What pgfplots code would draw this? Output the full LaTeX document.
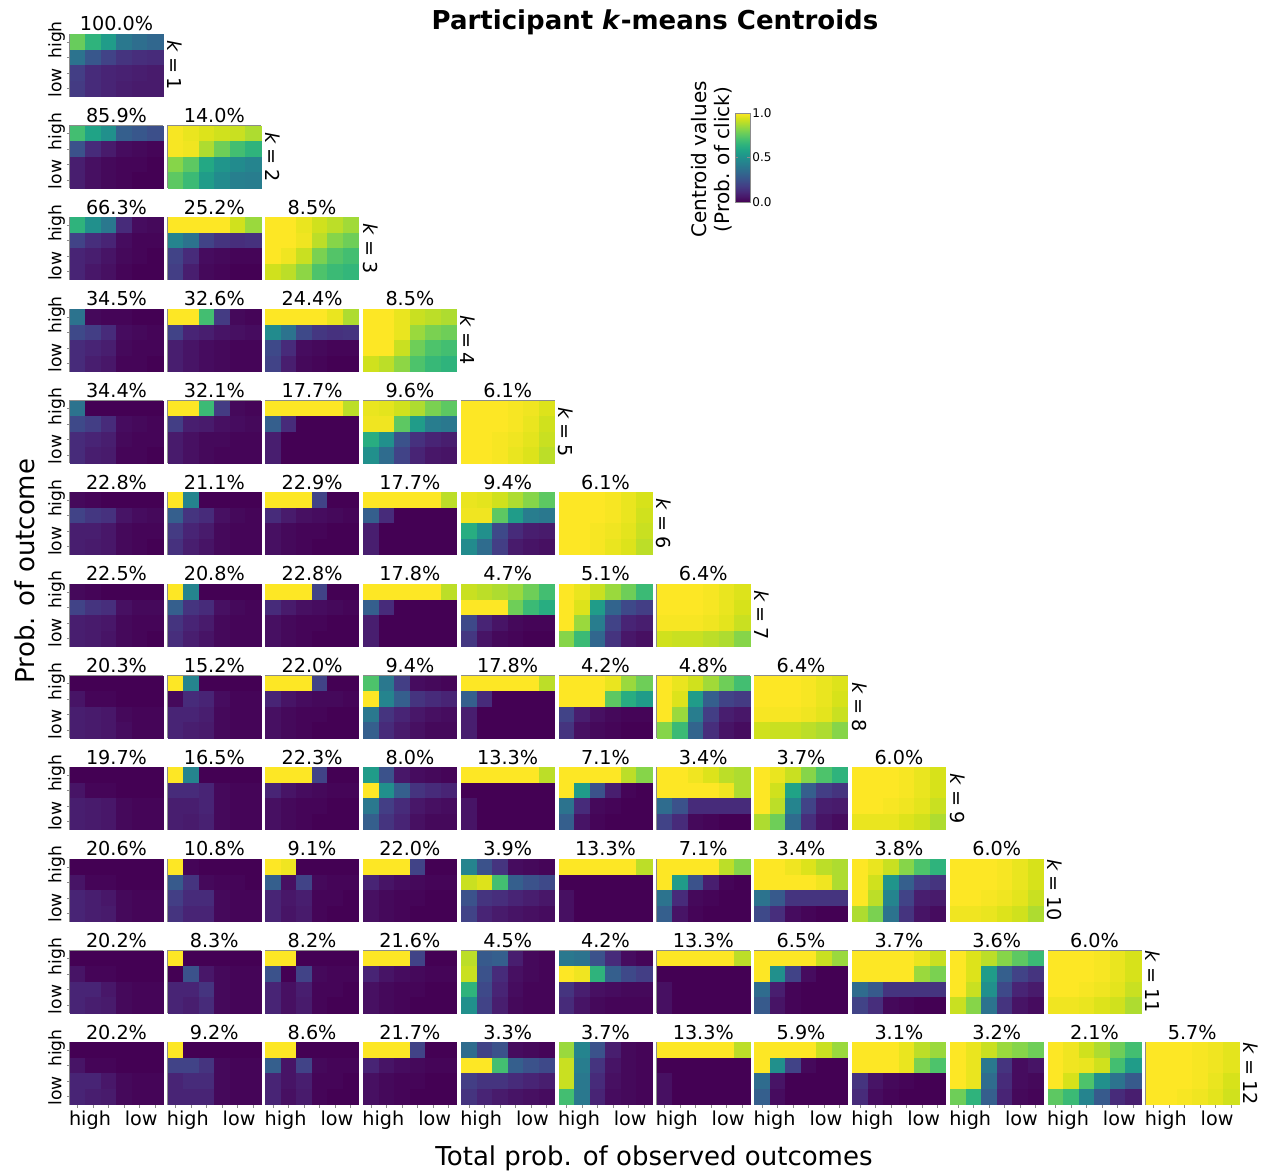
\documentclass[border=0pt]{standalone}
\usepackage{fontspec}
\setmainfont{DejaVu Sans}
\usepackage{pgfplots}
\pgfplotsset{compat=1.18}

\newcommand{\pctfont}{\fontsize{9.6}{11}\selectfont}
\newcommand{\xtickfont}{\fontsize{9.6}{11}\selectfont}
\newcommand{\ytickfont}{\fontsize{8.6}{10}\selectfont}
\newcommand{\labfont}{\fontsize{13}{15}\selectfont}

\pgfplotsset{
  hm/.style={
    anchor=north west, scale only axis, width=46.5pt, height=31pt,
    xmin=-0.5, xmax=5.5, ymin=-0.5, ymax=3.5, y dir=reverse,
    colormap/viridis, point meta min=0, point meta max=100,
    axis on top, axis line style={gray!90, line width=0.5pt},
    xtick=\empty, ytick=\empty,
    tick style={gray!90, line width=0.45pt}, tick align=outside, major tick length=1.6pt,
    every axis title/.style={font=\pctfont, at={(0.5,1)}, anchor=base, yshift=1.7pt, inner sep=0pt},
  },
  lefty/.style={ytick={0,1,2,3}, yticklabels={}, ytick pos=left,
    extra y ticks={-0.14,2.63}, extra y tick labels={high,{low\vphantom{g}}},
    extra y tick style={major tick length=0pt, tick style={draw=none},
      yticklabel style={font=\ytickfont, rotate=90, anchor=south, inner sep=2.3pt}}},
  bottomx/.style={xtick={0,...,5}, xticklabels={}, xtick pos=left,
    extra x ticks={0.79,4.1}, extra x tick labels={high,low},
    extra x tick style={major tick length=0pt, tick style={draw=none},
      xticklabel style={font=\xtickfont, anchor=north, inner sep=2.8pt}}},
}

% one centroid: column, row, share, extra axis keys, 4x6 values (percent, row by row)
\newcommand{\hmap}[5]{%
  \begin{axis}[hm, at={(#1*48.9pt,-#2*45.83pt)}, title={#3}, #4]
    \addplot[scatter, only marks, mark=square*, mark size=3.875pt,
      mark options={line width=0.2pt}, point meta=explicit,
      scatter/use mapped color={draw=mapped color, fill=mapped color}]
      table[header=false, row sep=\\, x expr={mod(\coordindex,6)},
            y expr={floor((\coordindex+0.5)/6)}, meta index=0] {#5};
  \end{axis}}

\begin{document}
\begin{tikzpicture}
\useasboundingbox (-35pt,17.15pt) rectangle (600pt,-569.35pt);

% k = 1
\hmap{0}{0}{100.0\%}{lefty}{77\\65\\55\\40\\36\\33\\38\\27\\20\\15\\13\\12\\18\\12\\10\\9\\8\\7\\17\\12\\10\\8\\7\\7\\}
% k = 2
\hmap{0}{1}{85.9\%}{lefty}{70\\58\\50\\30\\27\\24\\25\\12\\7\\3\\2\\1\\8\\4\\2\\1\\1\\0\\8\\4\\2\\1\\0\\0\\}
\hmap{1}{1}{14.0\%}{}{99\\97\\95\\93\\92\\88\\99\\98\\88\\78\\70\\65\\82\\75\\60\\52\\48\\45\\75\\68\\55\\48\\43\\42\\}
% k = 3
\hmap{0}{2}{66.3\%}{lefty}{65\\50\\40\\12\\3\\2\\20\\13\\10\\3\\1\\1\\10\\8\\5\\2\\1\\0\\10\\6\\4\\1\\0\\0\\}
\hmap{1}{2}{25.2\%}{}{100\\100\\100\\100\\93\\85\\45\\38\\20\\15\\13\\14\\20\\12\\3\\2\\1\\1\\18\\8\\2\\1\\0\\0\\}
\hmap{2}{2}{8.5\%}{}{100\\100\\97\\93\\90\\86\\100\\100\\98\\90\\82\\78\\100\\98\\92\\80\\73\\70\\93\\90\\83\\72\\68\\66\\}
% k = 4
\hmap{0}{3}{34.5\%}{lefty}{38\\2\\1\\1\\0\\0\\22\\18\\12\\3\\2\\1\\12\\10\\8\\2\\1\\1\\12\\8\\6\\1\\1\\0\\}
\hmap{1}{3}{32.6\%}{}{100\\100\\70\\17\\2\\1\\20\\10\\8\\5\\4\\3\\8\\5\\3\\2\\1\\1\\8\\5\\3\\2\\1\\1\\}
\hmap{2}{3}{24.4\%}{}{100\\100\\100\\100\\97\\88\\48\\38\\22\\16\\14\\15\\22\\12\\3\\2\\1\\1\\20\\8\\2\\1\\0\\0\\}
\hmap{3}{3}{8.5\%}{}{100\\100\\97\\92\\90\\88\\100\\100\\97\\85\\80\\78\\100\\100\\92\\78\\72\\70\\93\\90\\83\\72\\67\\65\\}
% k = 5
\hmap{0}{4}{34.4\%}{lefty}{38\\0\\0\\0\\0\\0\\22\\18\\12\\3\\2\\1\\12\\10\\8\\2\\1\\1\\12\\8\\7\\1\\1\\0\\}
\hmap{1}{4}{32.1\%}{}{100\\100\\68\\17\\2\\1\\18\\8\\7\\4\\3\\2\\7\\4\\2\\2\\1\\1\\7\\4\\2\\1\\1\\1\\}
\hmap{2}{4}{17.7\%}{}{100\\100\\100\\100\\100\\90\\30\\12\\0\\0\\0\\0\\8\\0\\0\\0\\0\\0\\8\\0\\0\\0\\0\\0\\}
\hmap{3}{4}{9.6\%}{}{97\\96\\93\\88\\80\\75\\98\\98\\75\\55\\42\\40\\62\\50\\25\\14\\10\\8\\50\\35\\20\\10\\6\\5\\}
\hmap{4}{4}{6.1\%}{}{100\\100\\100\\99\\98\\95\\100\\100\\100\\99\\97\\93\\100\\100\\99\\98\\96\\92\\100\\100\\99\\97\\95\\90\\}
% k = 6
\hmap{0}{5}{22.8\%}{lefty}{2\\1\\0\\0\\0\\0\\20\\16\\14\\5\\3\\2\\8\\8\\6\\2\\1\\1\\8\\7\\6\\2\\1\\0\\}
\hmap{1}{5}{21.1\%}{}{100\\45\\0\\0\\0\\0\\30\\15\\12\\4\\2\\1\\17\\10\\7\\2\\1\\1\\14\\8\\5\\2\\1\\1\\}
\hmap{2}{5}{22.9\%}{}{100\\100\\100\\20\\0\\0\\12\\7\\4\\3\\2\\1\\4\\2\\1\\1\\0\\0\\4\\2\\1\\0\\0\\0\\}
\hmap{3}{5}{17.7\%}{}{100\\100\\100\\100\\100\\90\\30\\12\\0\\0\\0\\0\\8\\0\\0\\0\\0\\0\\8\\0\\0\\0\\0\\0\\}
\hmap{4}{5}{9.4\%}{}{97\\96\\93\\88\\82\\75\\98\\98\\75\\55\\42\\40\\62\\50\\22\\12\\8\\7\\48\\35\\18\\7\\5\\4\\}
\hmap{5}{5}{6.1\%}{}{100\\100\\100\\99\\97\\94\\100\\100\\100\\99\\97\\93\\100\\100\\99\\98\\96\\92\\100\\100\\99\\97\\95\\90\\}
% k = 7
\hmap{0}{6}{22.5\%}{lefty}{2\\1\\0\\0\\0\\0\\20\\15\\13\\4\\2\\2\\8\\7\\6\\2\\1\\1\\8\\7\\5\\2\\1\\0\\}
\hmap{1}{6}{20.8\%}{}{100\\45\\0\\0\\0\\0\\30\\15\\12\\4\\2\\1\\15\\10\\7\\2\\1\\1\\13\\8\\5\\2\\1\\1\\}
\hmap{2}{6}{22.8\%}{}{100\\100\\100\\20\\0\\0\\12\\7\\4\\3\\2\\1\\4\\2\\1\\1\\0\\0\\4\\2\\1\\0\\0\\0\\}
\hmap{3}{6}{17.8\%}{}{100\\100\\100\\100\\100\\90\\30\\12\\0\\0\\0\\0\\8\\0\\0\\0\\0\\0\\8\\0\\0\\0\\0\\0\\}
\hmap{4}{6}{4.7\%}{}{92\\90\\88\\85\\78\\70\\100\\100\\100\\78\\68\\62\\22\\10\\5\\2\\1\\1\\16\\5\\2\\1\\0\\0\\}
\hmap{5}{6}{5.1\%}{}{100\\97\\92\\85\\78\\68\\100\\95\\55\\32\\22\\18\\100\\85\\42\\20\\10\\8\\82\\68\\33\\15\\6\\4\\}
\hmap{6}{6}{6.4\%}{}{100\\100\\100\\99\\97\\95\\100\\100\\100\\99\\97\\94\\99\\99\\99\\98\\96\\92\\93\\92\\92\\90\\88\\82\\}
% k = 8
\hmap{0}{7}{20.3\%}{lefty}{0\\0\\0\\0\\0\\0\\5\\1\\1\\0\\0\\0\\8\\7\\6\\2\\1\\1\\8\\7\\6\\3\\1\\1\\}
\hmap{1}{7}{15.2\%}{}{100\\45\\0\\0\\0\\0\\2\\12\\10\\3\\1\\1\\10\\10\\8\\2\\1\\1\\10\\8\\7\\2\\1\\1\\}
\hmap{2}{7}{22.0\%}{}{100\\100\\100\\20\\0\\0\\10\\5\\3\\2\\2\\1\\4\\2\\1\\1\\0\\0\\4\\2\\1\\0\\0\\0\\}
\hmap{3}{7}{9.4\%}{}{72\\40\\18\\3\\2\\1\\100\\45\\30\\15\\12\\10\\40\\15\\10\\6\\4\\3\\30\\12\\7\\4\\2\\2\\}
\hmap{4}{7}{17.8\%}{}{100\\100\\100\\100\\100\\90\\30\\12\\0\\0\\0\\0\\8\\0\\0\\0\\0\\0\\8\\0\\0\\0\\0\\0\\}
\hmap{5}{7}{4.2\%}{}{100\\100\\100\\97\\85\\78\\100\\100\\100\\75\\62\\55\\20\\8\\4\\2\\1\\1\\15\\4\\2\\1\\0\\0\\}
\hmap{6}{7}{4.8\%}{}{100\\97\\93\\86\\78\\70\\100\\95\\55\\30\\20\\17\\100\\85\\42\\18\\8\\6\\82\\68\\32\\13\\5\\3\\}
\hmap{7}{7}{6.4\%}{}{100\\100\\100\\99\\97\\95\\100\\100\\100\\99\\97\\94\\99\\99\\99\\98\\96\\92\\93\\92\\92\\90\\88\\82\\}
% k = 9
\hmap{0}{8}{19.7\%}{lefty}{0\\0\\0\\0\\0\\0\\5\\1\\1\\0\\0\\0\\8\\7\\6\\2\\1\\1\\8\\7\\6\\2\\1\\1\\}
\hmap{1}{8}{16.5\%}{}{100\\45\\0\\0\\0\\0\\12\\12\\10\\2\\1\\1\\8\\8\\10\\2\\1\\1\\8\\7\\9\\2\\1\\1\\}
\hmap{2}{8}{22.3\%}{}{100\\100\\100\\20\\0\\0\\10\\5\\3\\2\\1\\1\\4\\2\\1\\1\\0\\0\\4\\2\\1\\0\\0\\0\\}
\hmap{3}{8}{8.0\%}{}{55\\25\\6\\3\\2\\1\\100\\50\\30\\15\\12\\10\\40\\18\\12\\6\\4\\3\\30\\15\\10\\4\\2\\2\\}
\hmap{4}{8}{13.3\%}{}{100\\100\\100\\100\\100\\90\\0\\0\\0\\0\\0\\0\\5\\0\\0\\0\\0\\0\\5\\0\\0\\0\\0\\0\\}
\hmap{5}{8}{7.1\%}{}{100\\100\\100\\100\\90\\82\\100\\55\\25\\8\\1\\0\\38\\12\\2\\1\\0\\0\\30\\5\\1\\0\\0\\0\\}
\hmap{6}{8}{3.4\%}{}{100\\100\\98\\95\\90\\88\\100\\100\\100\\100\\98\\88\\35\\25\\12\\12\\12\\12\\20\\12\\2\\1\\0\\0\\}
\hmap{7}{8}{3.7\%}{}{100\\97\\92\\82\\72\\65\\100\\93\\58\\30\\18\\15\\100\\90\\45\\20\\8\\7\\88\\78\\35\\13\\5\\3\\}
\hmap{8}{8}{6.0\%}{}{100\\100\\100\\99\\97\\94\\100\\100\\100\\99\\97\\94\\100\\100\\99\\98\\96\\92\\97\\97\\97\\95\\93\\88\\}
% k = 10
\hmap{0}{9}{20.6\%}{lefty}{0\\0\\0\\0\\0\\0\\5\\1\\1\\0\\0\\0\\10\\8\\6\\2\\1\\1\\10\\8\\7\\2\\1\\1\\}
\hmap{1}{9}{10.8\%}{}{100\\1\\0\\0\\0\\0\\28\\15\\2\\1\\1\\0\\18\\12\\12\\2\\1\\1\\15\\10\\10\\2\\1\\1\\}
\hmap{2}{9}{9.1\%}{}{100\\98\\0\\0\\0\\0\\30\\4\\20\\2\\1\\1\\10\\6\\8\\1\\1\\0\\10\\5\\7\\1\\0\\0\\}
\hmap{3}{9}{22.0\%}{}{100\\100\\100\\20\\0\\0\\10\\5\\3\\2\\1\\1\\4\\2\\1\\1\\0\\0\\4\\2\\1\\0\\0\\0\\}
\hmap{4}{9}{3.9\%}{}{45\\25\\15\\3\\2\\1\\92\\95\\70\\30\\25\\22\\25\\15\\13\\10\\8\\6\\20\\10\\7\\5\\4\\3\\}
\hmap{5}{9}{13.3\%}{}{100\\100\\100\\100\\100\\90\\0\\0\\0\\0\\0\\0\\4\\0\\0\\0\\0\\0\\4\\0\\0\\0\\0\\0\\}
\hmap{6}{9}{7.1\%}{}{100\\100\\100\\100\\90\\82\\100\\55\\25\\8\\1\\0\\38\\12\\2\\1\\0\\0\\30\\5\\1\\0\\0\\0\\}
\hmap{7}{9}{3.4\%}{}{100\\100\\98\\95\\90\\88\\100\\100\\100\\100\\98\\88\\38\\28\\15\\15\\15\\15\\22\\13\\3\\1\\0\\0\\}
\hmap{8}{9}{3.8\%}{}{100\\97\\92\\82\\72\\65\\100\\93\\52\\30\\18\\15\\100\\90\\45\\20\\8\\7\\88\\80\\38\\15\\5\\3\\}
\hmap{9}{9}{6.0\%}{}{100\\100\\100\\99\\97\\94\\100\\100\\100\\99\\97\\94\\100\\100\\99\\98\\96\\92\\98\\98\\97\\95\\93\\88\\}
% k = 11
\hmap{0}{10}{20.2\%}{lefty}{0\\0\\0\\0\\0\\0\\5\\1\\1\\0\\0\\0\\10\\10\\6\\2\\1\\1\\10\\8\\7\\2\\1\\1\\}
\hmap{1}{10}{8.3\%}{}{100\\0\\0\\0\\0\\0\\0\\25\\6\\2\\1\\1\\10\\10\\15\\2\\1\\1\\10\\8\\12\\2\\1\\1\\}
\hmap{2}{10}{8.2\%}{}{100\\100\\0\\0\\0\\0\\25\\0\\20\\2\\1\\1\\10\\4\\8\\1\\1\\0\\10\\4\\7\\1\\0\\0\\}
\hmap{3}{10}{21.6\%}{}{100\\100\\100\\20\\0\\0\\10\\5\\3\\2\\1\\1\\4\\2\\1\\1\\0\\0\\4\\2\\1\\0\\0\\0\\}
\hmap{4}{10}{4.5\%}{}{90\\28\\30\\8\\2\\1\\92\\25\\12\\4\\2\\1\\65\\22\\10\\3\\1\\1\\50\\20\\8\\2\\1\\1\\}
\hmap{5}{10}{4.2\%}{}{40\\38\\25\\12\\3\\1\\100\\98\\65\\30\\22\\18\\15\\8\\4\\3\\2\\2\\12\\5\\2\\1\\1\\1\\}
\hmap{6}{10}{13.3\%}{}{100\\100\\100\\100\\100\\90\\0\\0\\0\\0\\0\\0\\4\\0\\0\\0\\0\\0\\4\\0\\0\\0\\0\\0\\}
\hmap{7}{10}{6.5\%}{}{100\\100\\100\\100\\92\\85\\100\\50\\20\\3\\0\\0\\35\\8\\1\\0\\0\\0\\28\\5\\1\\0\\0\\0\\}
\hmap{8}{10}{3.7\%}{}{100\\100\\100\\100\\97\\92\\100\\100\\100\\100\\85\\80\\35\\28\\15\\15\\15\\15\\20\\13\\2\\1\\0\\0\\}
\hmap{9}{10}{3.6\%}{}{100\\95\\90\\82\\75\\68\\100\\95\\55\\30\\20\\15\\100\\92\\50\\22\\10\\7\\92\\82\\38\\15\\5\\3\\}
\hmap{10}{10}{6.0\%}{}{100\\100\\100\\99\\97\\94\\100\\100\\100\\99\\97\\94\\100\\100\\99\\98\\96\\92\\98\\98\\97\\95\\93\\88\\}
% k = 12
\hmap{0}{11}{20.2\%}{lefty,bottomx}{0\\0\\0\\0\\0\\0\\5\\1\\1\\0\\0\\0\\10\\10\\6\\2\\1\\1\\10\\8\\7\\2\\1\\1\\}
\hmap{1}{11}{9.2\%}{bottomx}{100\\0\\0\\0\\0\\0\\20\\20\\15\\2\\1\\1\\10\\12\\12\\2\\1\\1\\10\\10\\10\\2\\1\\1\\}
\hmap{2}{11}{8.6\%}{bottomx}{100\\100\\0\\0\\0\\0\\30\\5\\20\\2\\1\\1\\10\\5\\8\\1\\1\\0\\10\\4\\7\\1\\0\\0\\}
\hmap{3}{11}{21.7\%}{bottomx}{100\\100\\100\\20\\0\\0\\10\\5\\3\\2\\1\\1\\4\\2\\1\\1\\0\\0\\4\\2\\1\\0\\0\\0\\}
\hmap{4}{11}{3.3\%}{bottomx}{35\\20\\25\\3\\2\\1\\100\\100\\70\\30\\25\\22\\18\\15\\15\\12\\10\\8\\15\\10\\7\\5\\4\\3\\}
\hmap{5}{11}{3.7\%}{bottomx}{85\\45\\25\\8\\2\\1\\92\\42\\15\\5\\2\\1\\92\\40\\12\\4\\2\\1\\70\\40\\10\\3\\2\\1\\}
\hmap{6}{11}{13.3\%}{bottomx}{100\\100\\100\\100\\100\\90\\0\\0\\0\\0\\0\\0\\4\\0\\0\\0\\0\\0\\4\\0\\0\\0\\0\\0\\}
\hmap{7}{11}{5.9\%}{bottomx}{100\\100\\100\\100\\92\\85\\100\\50\\20\\2\\0\\0\\35\\5\\0\\0\\0\\0\\30\\3\\0\\0\\0\\0\\}
\hmap{8}{11}{3.1\%}{bottomx}{100\\100\\100\\97\\90\\85\\100\\100\\100\\97\\80\\72\\15\\5\\2\\1\\0\\0\\12\\3\\1\\0\\0\\0\\}
\hmap{9}{11}{3.2\%}{bottomx}{100\\97\\92\\85\\82\\78\\100\\97\\40\\15\\3\\5\\100\\97\\35\\12\\3\\2\\78\\65\\30\\10\\2\\1\\}
\hmap{10}{11}{2.1\%}{bottomx}{100\\98\\93\\88\\78\\70\\100\\98\\97\\93\\70\\55\\100\\94\\72\\50\\38\\28\\75\\68\\45\\28\\12\\8\\}
\hmap{11}{11}{5.7\%}{bottomx}{100\\100\\100\\99\\98\\96\\100\\100\\100\\99\\98\\96\\100\\100\\100\\99\\97\\94\\100\\100\\99\\98\\96\\93\\}

% number of clusters beside each row
\foreach \r in {0,...,11}{
  \pgfmathtruncatemacro{\kk}{\r+1}
  \node[font=\pctfont, rotate=-90, anchor=south, inner sep=0pt]
    at ({\r*48.9pt+46.5pt+2pt}, {-\r*45.83pt-15.5pt}) {\textit{k}\hspace{0.25em}=\hspace{0.25em}\kk};
}

% colour scale
\begin{axis}[at={(332.5pt,-39.35pt)}, anchor=north west, scale only axis,
  width=7.5pt, height=44.5pt, hide axis, xmin=0, xmax=1, ymin=0, ymax=1,
  colormap/viridis, point meta min=0, point meta max=1,
  colorbar, colorbar style={at={(parent axis.north west)}, anchor=north west, xshift=-0.3cm,
    width=7.5pt, height=44.5pt, scale only axis, ytick={0,0.5,1},
    yticklabel style={font=\fontsize{6}{7}\selectfont, inner sep=1pt,
      /pgf/number format/.cd, fixed, fixed zerofill, precision=1, assume math mode=true},
    axis line style={gray!90}, tick style={gray!90}, major tick length=1.5pt}]
\end{axis}
\node[font=\fontsize{10}{11.5}\selectfont, rotate=90, align=center] at (321pt,-62.6pt)
  {Centroid values\\(Prob. of click)};

% titles
\node[font=\labfont\bfseries, anchor=base] at (292.5pt,2.65pt) {Participant \textit{k}-means Centroids};
\node[font=\labfont, rotate=90, anchor=base] at (-17.5pt,-268.35pt) {Prob. of outcome};
\node[font=\labfont, anchor=base] at (292pt,-565.35pt) {Total prob. of observed outcomes};
\end{tikzpicture}
\end{document}
